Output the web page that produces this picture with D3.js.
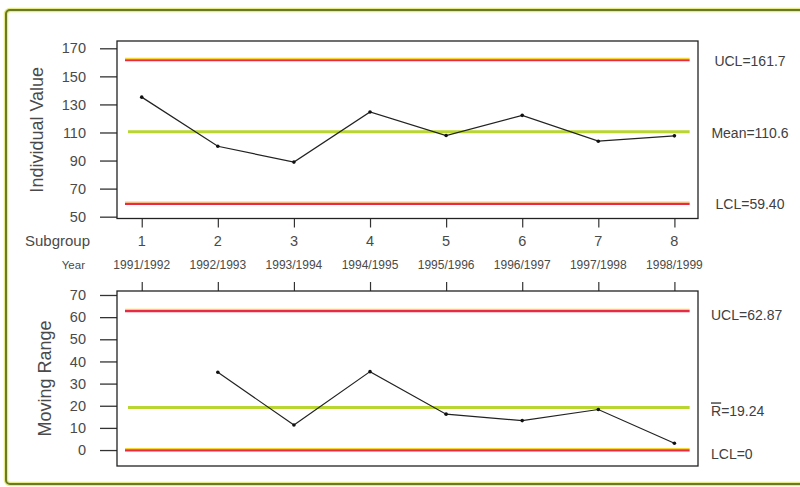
<!DOCTYPE html>
<html>
<head>
<meta charset="utf-8">
<script src="https://cdn.jsdelivr.net/npm/d3@7"></script>
<style>
  body { margin: 0; background: #fff; }
  svg { display: block; font-family: "Liberation Sans", Arial, sans-serif; }
</style>
</head>
<body>
<div id="chart"></div>
<script>
// data
const subgroups = [1, 2, 3, 4, 5, 6, 7, 8];
const years = ['1991/1992', '1992/1993', '1993/1994', '1994/1995', '1995/1996', '1996/1997', '1997/1998', '1998/1999'];
const individualValues = [135.2, 100.2, 88.9, 124.6, 107.8, 122.2, 103.8, 107.6];
const movingRanges = [null, 35.1, 11.3, 35.4, 16.2, 13.3, 18.3, 3.1];
const individualTicks = [50, 70, 90, 110, 130, 150, 170];
const rangeTicks = [0, 10, 20, 30, 40, 50, 60, 70];
const individualLimits = [
  { label: 'UCL=161.7', value: 161.7, kind: 'limit' },
  { label: 'Mean=110.6', value: 110.6, kind: 'center' },
  { label: 'LCL=59.40', value: 59.4, kind: 'limit' }
];
const rangeLimits = [
  { label: 'UCL=62.87', value: 62.87, kind: 'limit' },
  { label: '=19.24', value: 19.24, kind: 'center', bar: 'R' },
  { label: 'LCL=0', value: 0, kind: 'limit' }
];

const width = 800, height = 487;
const svg = d3.select('#chart').append('svg')
  .attr('width', width)
  .attr('height', height);

// scanned frame
svg.append('rect')
  .attr('x', 6).attr('y', 10).attr('width', 830).attr('height', 474).attr('rx', 4)
  .attr('fill', 'none').attr('stroke', '#e4ea8c').attr('stroke-width', 4.5);
svg.append('rect')
  .attr('x', 6).attr('y', 10).attr('width', 830).attr('height', 474).attr('rx', 4)
  .attr('fill', 'none').attr('stroke', '#6a7a22').attr('stroke-width', 2);

const x = d3.scaleLinear().domain([0.675, 8.31]).range([117, 698]);
const lineFrom = 0.78, lineTo = 8.2;

function panel(opts) {
  const y = d3.scaleLinear().domain(opts.domain).range([opts.bottom, opts.top]);
  const g = svg.append('g');

  // y axis
  const ya = g.append('g')
    .attr('transform', 'translate(117,0)')
    .call(d3.axisLeft(y).tickValues(opts.ticks).tickSize(17).tickPadding(14));
  ya.select('.domain').remove();
  ya.selectAll('line').attr('stroke', '#333').attr('stroke-width', 1.3);
  ya.selectAll('text').attr('font-size', 14.5).attr('fill', '#4a4a4a').attr('font-family', 'Liberation Sans, Arial, sans-serif');

  // x ticks
  const xa = g.append('g')
    .attr('transform', 'translate(0,' + opts.xTickY + ')')
    .call((opts.xTickUp ? d3.axisTop(x) : d3.axisBottom(x)).tickValues(subgroups).tickSize(9).tickFormat(''));
  xa.select('.domain').remove();
  xa.selectAll('line').attr('stroke', '#333').attr('stroke-width', 1.2);

  // control lines
  opts.limits.forEach(d => {
    if (d.kind === 'limit') {
      g.append('line')
        .attr('x1', x(lineFrom)).attr('x2', x(lineTo))
        .attr('y1', y(d.value) - 1.5).attr('y2', y(d.value) - 1.5)
        .attr('stroke', '#f3d83a').attr('stroke-width', 1.2);
      g.append('line')
        .attr('x1', x(lineFrom)).attr('x2', x(lineTo))
        .attr('y1', y(d.value) + 0.3).attr('y2', y(d.value) + 0.3)
        .attr('stroke', '#e92a45').attr('stroke-width', 2.2);
    } else {
      g.append('line')
        .attr('x1', x(lineFrom) + 3).attr('x2', x(lineTo))
        .attr('y1', y(d.value)).attr('y2', y(d.value))
        .attr('stroke', '#b9d630').attr('stroke-width', 3);
    }
    const t = g.append('text')
      .attr('x', opts.labelX2).attr('y', y(d.value) + opts.labelShift)
      .attr('dy', '0.35em')
      .attr('text-anchor', opts.labelAnchor)
      .attr('font-size', 14)
      .attr('fill', '#404040');
    if (d.bar) {
      t.append('tspan').style('text-decoration', 'overline').text(d.bar);
    }
    t.append('tspan').text(d.label);
  });

  // data line
  const pts = opts.values.map((v, i) => ({ s: subgroups[i], v })).filter(d => d.v !== null);
  g.append('path')
    .datum(pts)
    .attr('fill', 'none')
    .attr('stroke', '#222')
    .attr('stroke-width', 1.2)
    .attr('d', d3.line().x(d => x(d.s)).y(d => y(d.v)));
  g.selectAll('circle.pt')
    .data(pts)
    .enter().append('circle')
    .attr('class', 'pt')
    .attr('cx', d => x(d.s))
    .attr('cy', d => y(d.v))
    .attr('r', 1.8)
    .attr('fill', '#111');

  // plot frame
  g.append('rect')
    .attr('x', 117).attr('y', opts.top)
    .attr('width', 698 - 117).attr('height', opts.bottom - opts.top)
    .attr('fill', 'none').attr('stroke', '#222').attr('stroke-width', 1.3);

  // y label
  g.append('text')
    .attr('transform', 'translate(' + opts.labelX + ',' + (opts.top + opts.bottom) / 2 + ') rotate(-90)')
    .attr('text-anchor', 'middle')
    .attr('font-size', 18)
    .attr('fill', '#4a4a4a')
    .text(opts.title);
}

panel({
  domain: [48.7, 175.2], top: 41, bottom: 218.5,
  ticks: individualTicks, values: individualValues, limits: individualLimits,
  xTickY: 218.5, xTickUp: false, labelShift: 1, labelX: 43, title: 'Individual Value',
  labelX2: 750, labelAnchor: 'middle'
});

panel({
  domain: [-7.2, 71.8], top: 291, bottom: 466,
  ticks: rangeTicks, values: movingRanges, limits: rangeLimits,
  xTickY: 291, xTickUp: true, labelShift: 4, labelX: 51, title: 'Moving Range',
  labelX2: 711, labelAnchor: 'start'
});

// subgroup / year rows
svg.append('text')
  .attr('x', 90).attr('y', 246)
  .attr('text-anchor', 'end').attr('font-size', 15).attr('fill', '#4a4a4a')
  .text('Subgroup');
svg.append('text')
  .attr('x', 85).attr('y', 269)
  .attr('text-anchor', 'end').attr('font-size', 11.5).attr('fill', '#4a4a4a')
  .text('Year');

svg.selectAll('text.sub')
  .data(subgroups)
  .enter().append('text')
  .attr('class', 'sub')
  .attr('x', d => x(d)).attr('y', 246)
  .attr('text-anchor', 'middle').attr('font-size', 14.5).attr('fill', '#4a4a4a')
  .text(d => d);

svg.selectAll('text.year')
  .data(years)
  .enter().append('text')
  .attr('class', 'year')
  .attr('x', (d, i) => x(subgroups[i])).attr('y', 269)
  .attr('text-anchor', 'middle').attr('font-size', 12).attr('fill', '#4a4a4a')
  .text(d => d);
</script>
</body>
</html>
